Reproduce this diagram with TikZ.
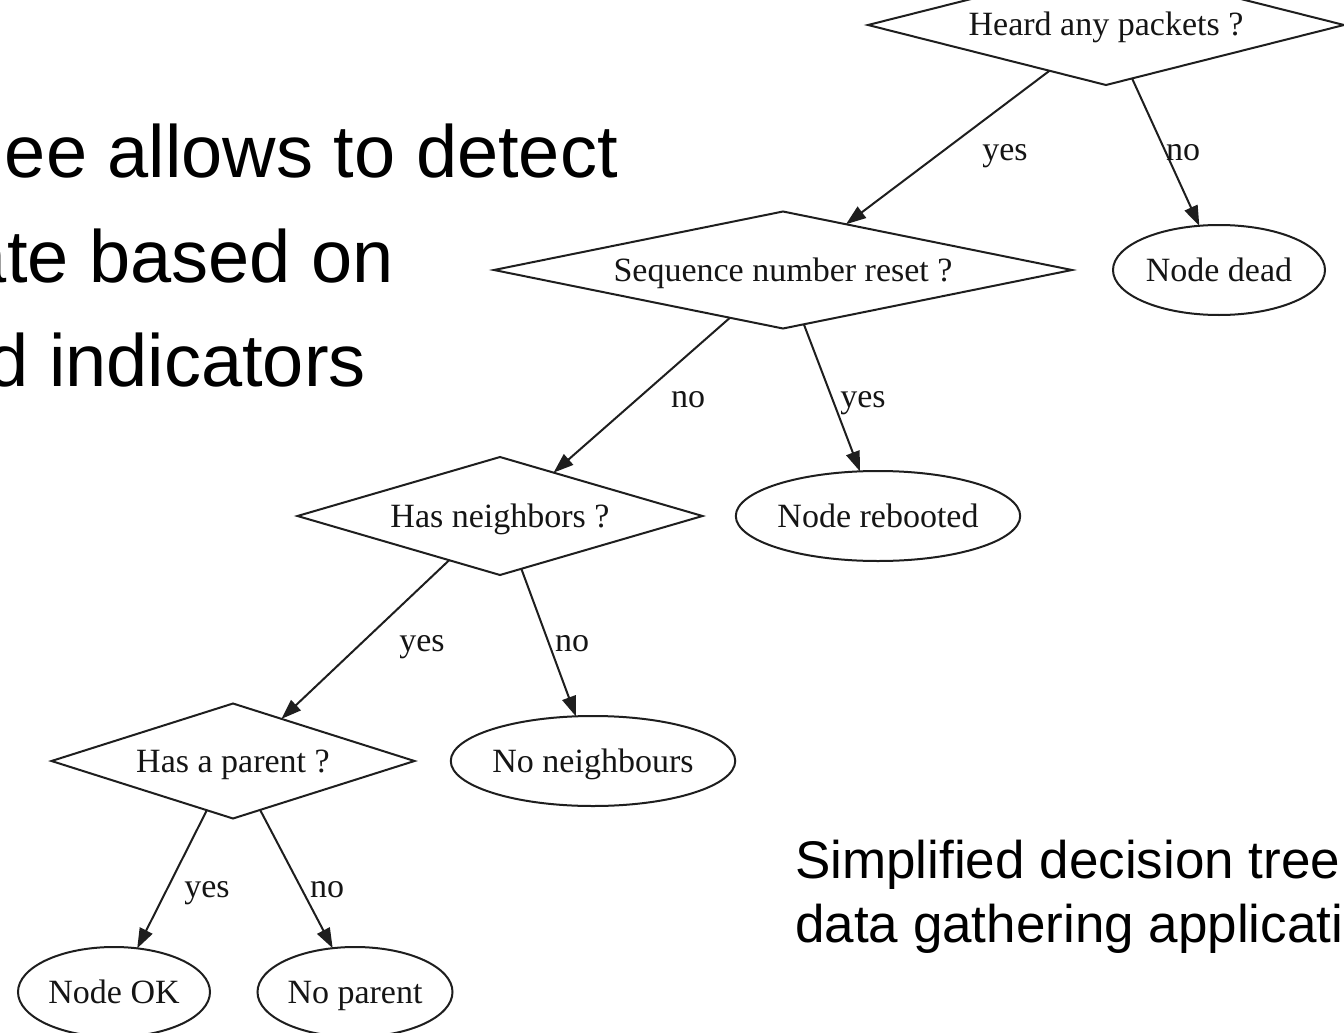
\documentclass[tikz,border=0pt]{standalone}
\usepackage{fontspec}
\setmainfont{Liberation Serif}
\newfontfamily\slidesans{Liberation Sans}
\usetikzlibrary{shapes.geometric,arrows.meta}
\definecolor{linegray}{HTML}{1E1E1E}
\definecolor{inkdark}{HTML}{151515}
\newcommand\treefont{\fontsize{34}{40}\selectfont}
\newcommand\slidebigfont{\slidesans\fontsize{74}{80}\selectfont}
\newcommand\notefont{\slidesans\fontsize{53}{60}\selectfont}
\begin{document}
\begin{tikzpicture}[x=1pt,y=-1pt,
  decision/.style={shape=diamond, draw=linegray, line width=2pt,
    inner sep=0pt, outer sep=0pt, font=\treefont, text=inkdark,
    text height=22pt, text depth=0pt},
  outcome/.style={shape=ellipse, draw=linegray, line width=2pt,
    inner sep=0pt, outer sep=0pt, font=\treefont, text=inkdark,
    text height=22pt, text depth=0pt},
  branch/.style={draw=linegray, line width=2pt,
    -{Triangle[length=20pt,width=14pt]}},
  answer/.style={font=\treefont, text=inkdark, anchor=base, inner sep=0pt},
  slideline/.style={font=\slidebigfont, anchor=base east, inner sep=0pt},
  noteline/.style={font=\notefont, anchor=base west, inner sep=0pt}]

% page frame
\useasboundingbox (0,0) rectangle (1344,1033);
\clip (0,0) rectangle (1344,1033);
\fill[white] (0,0) rectangle (1344,1033);

% slide text
\node[slideline] (s1) at (618,177) {ee allows to detect};
\node[slideline] (s2) at (394,282) {ate based on};
\node[slideline] (s3) at (366,386) {d indicators};
\node[noteline] (n1) at (795,878) {Simplified decision tree};
\node[noteline] (n2) at (795,942) {data gathering applicati};

% decisions
\node[decision, aspect=4, minimum width=476pt, minimum height=120pt]
  (heard) at (1106,25) {Heard any packets ?};
\node[decision, aspect=5, minimum width=578pt, minimum height=117pt]
  (seq) at (783,270) {Sequence number reset ?};
\node[decision, aspect=3.4, minimum width=405pt, minimum height=118pt]
  (hasn) at (500,516) {Has neighbors ?};
\node[decision, aspect=3.1, minimum width=363pt, minimum height=115pt]
  (hasp) at (233,761) {Has a parent ?};

% outcomes
\node[outcome, minimum width=212pt, minimum height=90pt] (dead) at (1219,270) {Node dead};
\node[outcome, minimum width=263pt, minimum height=90pt] (reb) at (878,516) {Node rebooted};
\node[outcome, minimum width=262pt, minimum height=90pt] (nonb) at (593,761) {No neighbours};
\node[outcome, minimum width=192pt, minimum height=90pt] (ok) at (114,992) {Node OK};
\node[outcome, minimum width=195pt, minimum height=90pt] (nopar) at (355,992) {No parent};

% branches
\draw[branch] (heard.219) -- (seq.36.7);
\draw[branch] (heard.296) -- (dead.114);
\draw[branch] (seq.222.3) -- (hasn.39.2);
\draw[branch] (seq.291) -- (reb.112.2);
\draw[branch] (hasn.221.3) -- (hasp.41);
\draw[branch] (hasn.292.2) -- (nonb.111.4);
\draw[branch] (hasp.242.6) -- (ok.62.9);
\draw[branch] (hasp.299.1) -- (nopar.117);

% branch answers
\node[answer] (a1) at (1005,160) {yes};
\node[answer] (a2) at (1183,160) {no};
\node[answer] (a3) at (688,407) {no};
\node[answer] (a4) at (863,407) {yes};
\node[answer] (a5) at (422,651) {yes};
\node[answer] (a6) at (572,651) {no};
\node[answer] (a7) at (207,897) {yes};
\node[answer] (a8) at (327,897) {no};
\end{tikzpicture}
\end{document}
